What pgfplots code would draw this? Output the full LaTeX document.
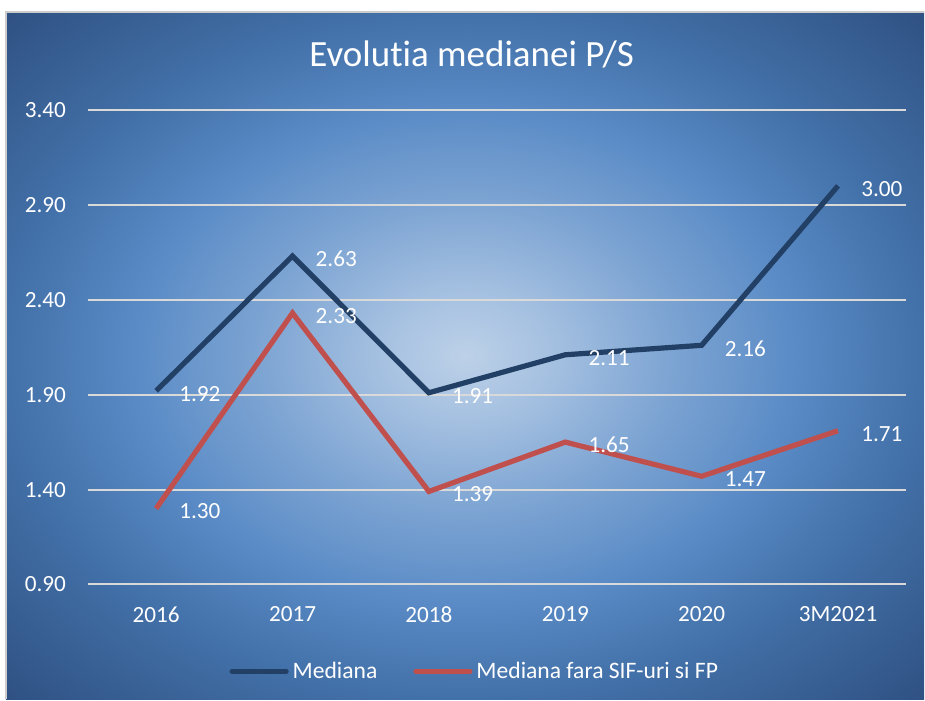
\documentclass[border=0pt]{standalone}
\usepackage{pgfplots}
\pgfplotsset{compat=1.18}
\usepackage{fontspec}
\setmainfont{Carlito}[Ligatures=NoCommon]
\definecolor{navyline}{HTML}{223F65}
\definecolor{redline}{HTML}{C0504D}
\definecolor{gridc}{HTML}{D9D9D9}
\definecolor{bgA}{HTML}{BDD1E8}
\definecolor{bgB}{HTML}{A3BFE0}
\definecolor{bgC}{HTML}{7EA5D3}
\definecolor{bgD}{HTML}{5A8BC6}
\definecolor{bgE}{HTML}{4270A8}
\definecolor{bgF}{HTML}{2E4F80}
\pgfdeclareradialshading{chartbg}{\pgfpoint{0bp}{0bp}}{%
  color(0bp)=(bgA); color(5bp)=(bgB); color(11bp)=(bgC); color(18bp)=(bgD);
  color(25bp)=(bgE); color(36bp)=(bgF); color(50bp)=(bgF)}
\pgfplotstableread{
x med fara
0 1.92 1.30
1 2.63 2.33
2 1.91 1.39
3 2.11 1.65
4 2.16 1.47
5 3.00 1.71
}\datatable
\begin{document}
\begin{tikzpicture}[x=1pt,y=1pt]
\path[fill=white] (0,0) rectangle (462.5,350);
\shade[shading=chartbg] (3,0) rectangle (462.5,344);
\draw[color=gray!40, line width=0.8pt] (3,0) -- (3,344) -- (462.5,344);
\node[text=white, font=\fontsize{18.5}{22}\selectfont] at (236,322.5) {Evolutia medianei P/S};
\begin{axis}[
  at={(44pt,57.5pt)}, anchor=south west,
  scale only axis, width=409.5pt, height=237.5pt,
  xmin=-0.5, xmax=5.5, ymin=0.9, ymax=3.4,
  axis line style={draw=none},
  major tick length=0pt,
  xtick={0,1,2,3,4,5},
  xticklabels={2016,2017,2018,2019,2020,3M2021},
  ytick={0.9,1.4,1.9,2.4,2.9,3.4},
  ymajorgrids, grid style={color=gridc, line width=1pt},
  /pgf/number format/assume math mode=true,
  /pgf/number format/.cd, fixed, fixed zerofill, precision=2, /pgfplots/.cd,
  tick label style={text=white, font=\fontsize{11.6}{14}\selectfont},
  yticklabel style={xshift=-7.5pt},
  xticklabel style={yshift=-7.5pt},
  nodes near coords,
  every node near coord/.append style={text=white, font=\fontsize{11.6}{14}\selectfont, anchor=west, xshift=7pt, yshift=-1.5pt},
  legend columns=2,
  legend style={draw=none, fill=none, text=white, font=\fontsize{11.8}{14}\selectfont,
    at={(0.474,-0.183)}, anchor=center,
    /tikz/every even column/.append style={column sep=16pt},
    nodes={inner xsep=2pt}},
  legend image code/.code={\draw[#1, line cap=round] (0pt,0pt) -- (27pt,0pt);},
]
\addplot[navyline, line width=2.6pt, line join=miter] table[x=x, y=med] {\datatable};
\addlegendentry{Mediana}
\addplot[redline, line width=2.6pt] table[x=x, y=fara] {\datatable};
\addlegendentry{Mediana fara SIF-uri si FP}
\end{axis}
\end{tikzpicture}
\end{document}
